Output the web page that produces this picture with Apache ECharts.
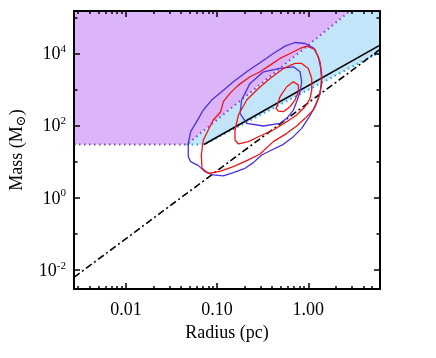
<!DOCTYPE html>
<html>
<head>
<meta charset="utf-8">
<script src="https://cdn.jsdelivr.net/npm/echarts@6/dist/echarts.min.js"></script>
<style>
html, body { margin: 0; padding: 0; background: #fff; }
#chart { width: 436px; height: 358px; }
</style>
</head>
<body>
<div id="chart"></div>
<script>
// axis ranges and ticks
var xRange = [0.0027, 6.1];
var yRange = [0.003, 1.5e5];
var xMajorTicks = [0.01, 0.1, 1];
var xMinorTicks = [0.003, 0.004, 0.005, 0.006, 0.007, 0.008, 0.009,
                   0.02, 0.03, 0.04, 0.05, 0.06, 0.07, 0.08, 0.09,
                   0.2, 0.3, 0.4, 0.5, 0.6, 0.7, 0.8, 0.9,
                   2, 3, 4, 5, 6];
var yMajorTicks = [0.01, 1, 100, 10000];
var yMinorTicks = [0.1, 10, 1000, 100000];

// threshold lines (radius pc, mass Msun)
var purpleEdge = [[0.0027, 30], [0.0463, 30], [2.86, 1.5e5]];
var blueEdge = [[0.0463, 30], [0.0718, 30], [6.1, 10900]];
var solidLine = [[0.0718, 30], [6.1, 17000]];
var dashDotLine = [[0.0027, 0.0063], [6.1, 12900]];

// regions
var purpleRegion = [[0.0027, 30], [0.0027, 1.5e5], [2.86, 1.5e5], [0.0463, 30]];
var blueRegion = [[0.0463, 30], [2.86, 1.5e5], [6.1, 1.5e5], [6.1, 10900], [0.0718, 30]];

var blueOuterLog = [[-1.316,1.143],[-1.316,1.512],[-1.290,1.834],[-1.224,2.111],[-1.151,2.433],[-1.060,2.710],[-0.950,2.940],[-0.822,3.217],[-0.676,3.493],[-0.530,3.742],[-0.384,4.000],[-0.256,4.203],[-0.146,4.304],[-0.036,4.276],[0.055,4.157],[0.110,3.908],[0.136,3.585],[0.147,3.217],[0.128,2.894],[0.081,2.571],[0.011,2.249],[-0.073,1.926],[-0.164,1.696],[-0.274,1.484],[-0.402,1.327],[-0.512,1.189],[-0.603,0.977],[-0.694,0.820],[-0.822,0.700],[-0.932,0.608],[-1.042,0.636],[-1.133,0.728],[-1.206,0.894],[-1.290,1.005],[-1.316,1.143]];
var blueInnerLog = [[-0.749,2.341],[-0.731,2.710],[-0.639,3.171],[-0.493,3.493],[-0.310,3.585],[-0.164,3.631],[-0.091,3.493],[-0.073,3.217],[-0.091,2.940],[-0.128,2.664],[-0.164,2.433],[-0.237,2.203],[-0.310,2.065],[-0.493,1.991],[-0.676,2.065],[-0.749,2.341]];
var redOuterLog = [[-1.166,0.820],[-1.173,1.189],[-1.151,1.604],[-1.097,1.880],[-1.042,2.157],[-0.961,2.387],[-0.932,2.664],[-0.859,2.894],[-0.767,3.124],[-0.639,3.355],[-0.530,3.493],[-0.420,3.677],[-0.310,3.862],[-0.201,4.000],[-0.091,4.138],[-0.018,4.203],[0.073,4.111],[0.128,3.770],[0.147,3.401],[0.136,3.032],[0.110,2.756],[0.055,2.433],[-0.036,2.203],[-0.128,1.991],[-0.237,1.788],[-0.384,1.558],[-0.530,1.217],[-0.658,1.051],[-0.822,0.866],[-0.969,0.737],[-1.097,0.682],[-1.166,0.820]];
var redMiddleLog = [[-0.804,1.604],[-0.804,1.880],[-0.767,2.295],[-0.676,2.710],[-0.548,3.032],[-0.420,3.309],[-0.274,3.585],[-0.146,3.724],[-0.073,3.724],[0.000,3.585],[0.037,3.309],[0.037,2.986],[0.019,2.756],[-0.036,2.525],[-0.128,2.295],[-0.237,2.111],[-0.384,1.880],[-0.530,1.714],[-0.658,1.558],[-0.767,1.493],[-0.804,1.604]];
var redInnerLog = [[-0.347,2.525],[-0.310,2.802],[-0.237,3.078],[-0.164,3.217],[-0.109,3.124],[-0.109,2.940],[-0.146,2.710],[-0.201,2.525],[-0.274,2.387],[-0.329,2.406],[-0.354,2.479],[-0.347,2.525]];

var font = 'Liberation Serif';

function unlog(pts) {
	return pts.map(function (p) { return [Math.pow(10, p[0]), Math.pow(10, p[1])]; });
}

function region(pts, color) {
	return {
		type: 'custom',
		silent: true,
		z: 1,
		renderItem: function (params, api) {
			return {
				type: 'polygon',
				shape: { points: pts.map(function (p) { return api.coord(p); }) },
				style: { fill: color }
			};
		},
		data: [pts[0]]
	};
}

function line(pts, color, width, type, z) {
	return {
		type: 'line',
		data: pts,
		showSymbol: false,
		silent: true,
		z: z || 3,
		lineStyle: { color: color, width: width, type: type || 'solid' }
	};
}

function xAxisFor(pos, ticks, len, main) {
	return {
		type: 'log', position: pos, min: xRange[0], max: xRange[1], z: 10,
		axisLine: { show: main, onZero: false, lineStyle: { color: '#000', width: 2 } },
		axisTick: { show: true, inside: true, length: len, customValues: ticks,
			lineStyle: { color: '#000', width: 1.5 } },
		axisLabel: { show: main && pos === 'bottom', customValues: ticks, margin: 12,
			color: '#000', fontFamily: font, fontSize: 18,
			formatter: function (v) { return v.toFixed(2); } },
		splitLine: { show: false },
		name: main && pos === 'bottom' ? 'Radius (pc)' : '',
		nameLocation: 'middle', nameGap: 30,
		nameTextStyle: { color: '#000', fontFamily: font, fontSize: 18 }
	};
}

function yAxisFor(pos, ticks, len, main) {
	return {
		type: 'log', position: pos, min: yRange[0], max: yRange[1], z: 10,
		axisLine: { show: main, onZero: false, lineStyle: { color: '#000', width: 2 } },
		axisTick: { show: true, inside: true, length: len, customValues: ticks,
			lineStyle: { color: '#000', width: 1.5 } },
		axisLabel: { show: main && pos === 'left', customValues: ticks, margin: 8,
			color: '#000', fontFamily: font,
			formatter: function (v) {
				var e = Math.round(Math.log(v) / Math.LN10);
				return '{b|10}{s|' + e + '}';
			},
			rich: {
				b: { fontFamily: font, fontSize: 18, lineHeight: 20, verticalAlign: 'bottom', color: '#000' },
				s: { fontFamily: font, fontSize: 11, lineHeight: 11, verticalAlign: 'top', color: '#000' }
			} },
		splitLine: { show: false },
		name: main && pos === 'left' ? 'Mass (M{s|\u2299})' : '',
		nameLocation: 'middle', nameGap: 38,
		nameTextStyle: { color: '#000', fontFamily: font, fontSize: 18, lineHeight: 22,
			rich: { s: { fontFamily: 'DejaVu Serif', fontSize: 13, lineHeight: 13, verticalAlign: 'bottom', color: '#000' } } }
	};
}

var chart = echarts.init(document.getElementById('chart'));
chart.setOption({
	animation: false,
	grid: { left: 74, right: 56, top: 11, bottom: 69, outerBoundsMode: 'none' },
	xAxis: [
		xAxisFor('bottom', xMajorTicks, 6, true),
		xAxisFor('bottom', xMinorTicks, 3, false),
		xAxisFor('top', xMajorTicks, 6, true),
		xAxisFor('top', xMinorTicks, 3, false)
	],
	yAxis: [
		yAxisFor('left', yMajorTicks, 6, true),
		yAxisFor('left', yMinorTicks, 3.5, false),
		yAxisFor('right', yMajorTicks, 6, true),
		yAxisFor('right', yMinorTicks, 3.5, false)
	],
	series: [
		region(purpleRegion, '#dcb4fa'),
		region(blueRegion, '#c2e5fa'),
		line(purpleEdge, '#8a3fc4', 2, [1.5, 3.5]),
		line(blueEdge, '#1e9cf0', 2, [1.5, 3.5]),
		line(solidLine, '#000', 1.6),
		line(dashDotLine, '#000', 1.6, [7, 3, 2, 3]),
		line(unlog(blueOuterLog), '#4a2fe0', 1.3, 'solid', 4),
		line(unlog(blueInnerLog), '#4a2fe0', 1.3, 'solid', 4),
		line(unlog(redOuterLog), '#f01414', 1.3, 'solid', 4),
		line(unlog(redMiddleLog), '#f01414', 1.3, 'solid', 4),
		line(unlog(redInnerLog), '#f01414', 1.3, 'solid', 4)
	]
});
</script>
</body>
</html>
